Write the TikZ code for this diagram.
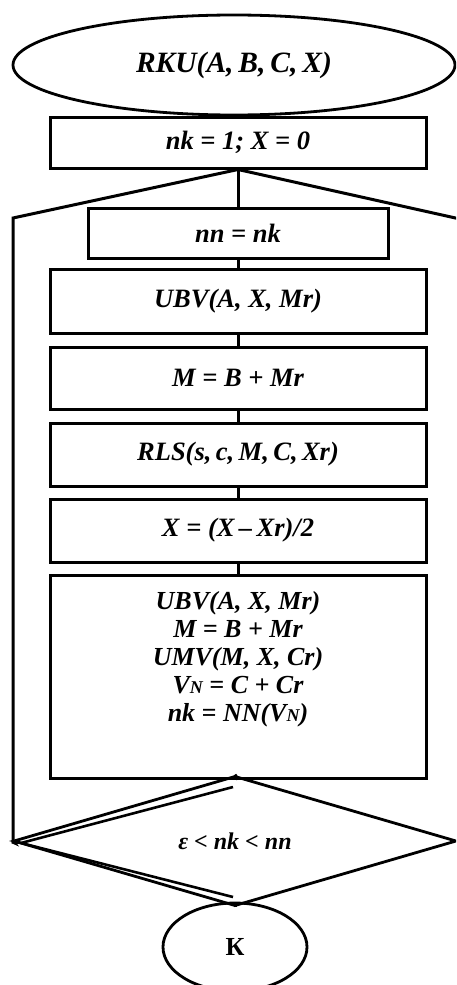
\documentclass[tikz,border=0pt]{standalone}
\usepackage{fontspec}
\setmainfont{Liberation Serif}
\usetikzlibrary{shapes.geometric,arrows.meta}
\begin{document}
\begin{tikzpicture}[x=1pt,y=-1pt,
  every node/.style={font=\bfseries\itshape},
  blk/.style={draw,line width=3pt,minimum width=376pt,inner sep=0pt,font=\fontsize{26.5}{30}\selectfont\bfseries\itshape},
  conn/.style={line width=3pt},
  oval/.style={draw,ellipse,line width=2.8pt,inner sep=0pt}]
\useasboundingbox (0,0) rectangle (456,985);
\clip (0,0) rectangle (456,985);
\node[oval,minimum width=442pt,minimum height=100pt,font=\fontsize{29.5}{32}\selectfont\bfseries\itshape] (title) at (234,65) {RKU(A,\,B,\,C,\,X)};
\node[blk,minimum height=51pt] (init) at (238,142.5) {nk = 1; X = 0};
\node[blk,minimum width=300pt,minimum height=50pt] (nn) at (238,233) {nn = nk};
\node[blk,minimum height=64pt] (ubv) at (238,301) {UBV(A, X, Mr)};
\node[blk,minimum height=62pt] (m) at (238,378) {M = B + Mr};
\node[blk,minimum height=63pt] (rls) at (238,454.5) {RLS(s,\,c,\,M,\,C,\,Xr)};
\node[blk,minimum height=63pt] (x) at (238,530.5) {X = (X\,--\,Xr)/2};
\node[blk,minimum height=203pt] (big) at (238,676.5) {};
\node[anchor=north,align=center,font=\fontsize{26}{28}\selectfont\bfseries\itshape] (bigtext) at (238,588)
  {UBV(A, X, Mr)\\ M = B + Mr\\ UMV(M, X, Cr)\\ V{\fontsize{18}{18}\selectfont N} = C + Cr\\ nk = NN(V{\fontsize{18}{18}\selectfont N})};
\node[draw,diamond,line width=2.8pt,inner sep=0pt,minimum width=443pt,minimum height=124pt,font=\fontsize{24}{26}\selectfont\bfseries\itshape] (cond) at (235,841) {ε < nk < nn};
\node[oval,minimum width=144pt,minimum height=88pt,font=\fontsize{26}{28}\selectfont\bfseries] (end) at (235,947) {К};
\coordinate (L1) at (13,218);
\coordinate (R1) at (460,219);
\draw[conn] (title.south) -- (init.north);
\draw[conn] (init.south) -- (nn.north);
\draw[conn] (init.south) -- (L1) -- (13,843);
\draw[conn] (init.south) -- (R1);
\draw[conn] (nn.south) -- (ubv.north);
\draw[conn] (ubv.south) -- (m.north);
\draw[conn] (m.south) -- (rls.north);
\draw[conn] (rls.south) -- (x.north);
\draw[conn] (x.south) -- (big.north);
\draw[conn] (big.south) -- (cond.north);
\draw[conn] (cond.south) -- (end.north);
\draw[line width=2.6pt] (233,787) -- (21,843) -- (233,897);
\draw[line width=2pt,-{Stealth[length=8pt,width=7pt]}] (26,843) -- (11,843);
\end{tikzpicture}
\end{document}
